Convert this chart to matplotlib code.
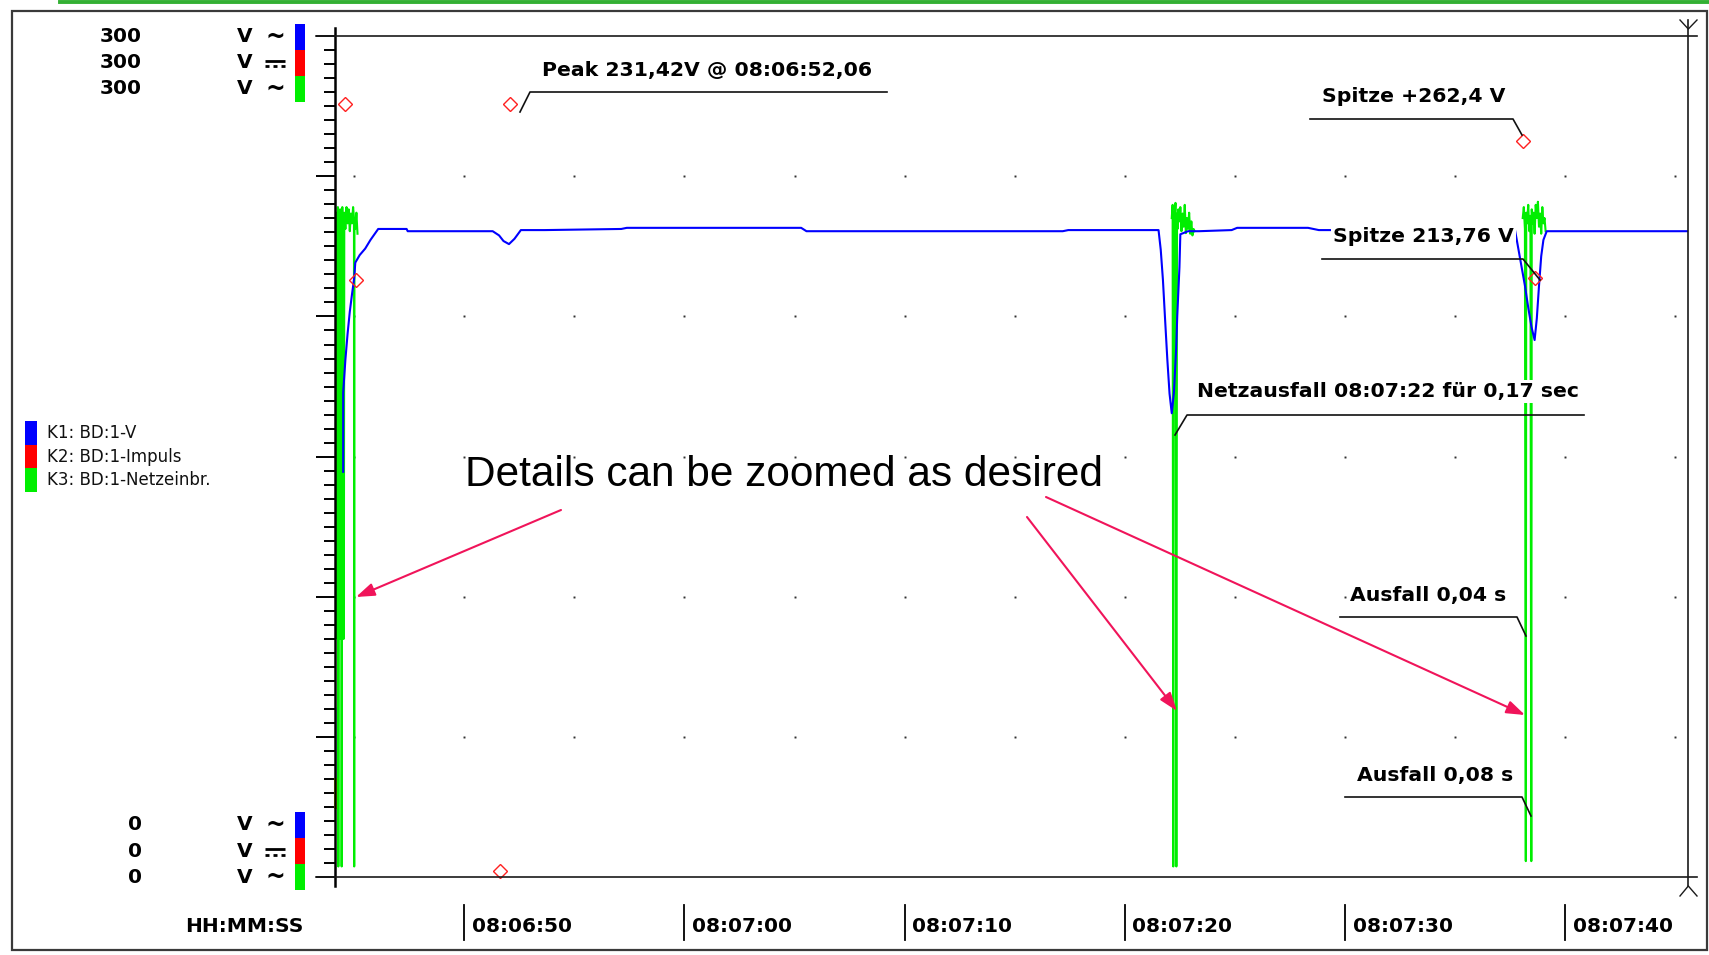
import numpy as np
import matplotlib
matplotlib.use("Agg")
import matplotlib.pyplot as plt
from matplotlib.lines import Line2D
from matplotlib.patches import Rectangle, FancyArrowPatch
import matplotlib.transforms as mtransforms

# ---------------- data (time = seconds after 08:06:00, values in volts) ----------------
blue_t = [44.14, 44.14, np.nan, 44.50, 44.50, 44.60, 44.70, 44.80, 44.90, 45.00, 45.05, 45.25,
          45.50, 45.74, 46.09, 47.38, 47.43, 51.29, 51.58, 51.78, 52.03, 52.28, 52.57, 53.66,
          57.13, 57.38, 65.30, 65.54, 77.18, 77.43, 81.53, 81.63, 81.73, 81.83, 81.93, 82.03,
          82.13, 82.23, 82.33, 82.38, 82.48, 82.52, 82.87, 83.37, 84.85, 85.10, 88.32, 88.81,
          97.72, 97.87, 98.02, 98.17, 98.32, 98.47, 98.61, 98.71, 98.81, 98.91, 99.01, 99.16,
          105.59]
blue_v = [35.0, 60.2, np.nan, 144.6, 172.9, 184.6, 193.9, 201.7, 207.9, 213.7, 219.2, 221.9,
          224.2, 227.3, 231.2, 231.2, 230.4, 230.4, 228.9, 226.9, 225.8, 227.7, 230.8, 230.8,
          231.2, 231.6, 231.6, 230.4, 230.4, 230.8, 230.8, 223.8, 213.0, 198.6, 184.6, 172.5,
          165.5, 172.9, 188.5, 200.1, 217.6, 229.3, 230.4, 230.4, 230.8, 231.6, 231.6, 230.8,
          230.8, 224.2, 217.6, 211.0, 203.2, 196.2, 191.6, 199.3, 211.0, 221.5, 227.3, 230.4,
          230.4]

yellow_t = [44.14, 44.14]
yellow_v = [35.0, 25.2]

green1_t = [44.16, 44.21, 44.23, 44.26, 44.28, 44.31, 44.33, 44.36, 44.38, 44.41, 44.43, 44.46,
            44.48, 44.50, 44.53, 44.55, 44.60, 44.65, 44.70, 44.75, 44.80, 44.85, 44.90, 44.95,
            44.99, 45.00, 45.01, 45.05, 45.10, 45.15]
green1_v = [233.2, 237.0, 85.1, 239.0, 3.9, 235.1, 85.1, 238.2, 85.1, 235.9, 3.9, 239.0,
            85.1, 235.1, 85.1, 237.0, 231.2, 239.0, 233.2, 238.2, 230.4, 236.7, 233.2, 239.0,
            235.1, 3.9, 235.1, 231.2, 237.0, 229.5]
green2_t = [82.13, 82.17, 82.20, 82.22, 82.26, 82.30, 82.34, 82.37, 82.39, 82.43, 82.48, 82.52,
            82.57, 82.62, 82.67, 82.72, 82.77, 82.82, 82.87, 82.92, 82.97, 83.02, 83.07, 83.12,
            83.17]
green2_v = [235.1, 239.8, 3.9, 237.0, 233.2, 240.5, 3.9, 236.7, 231.2, 238.2, 233.9, 239.0,
            230.4, 236.7, 232.0, 239.8, 229.7, 235.1, 231.2, 237.0, 229.5, 233.9, 228.9, 231.2,
            230.4]
green3_t = [98.07, 98.12, 98.17, 98.21, 98.23, 98.27, 98.32, 98.37, 98.42, 98.46, 98.48, 98.51,
            98.56, 98.61, 98.66, 98.71, 98.76, 98.81, 98.86, 98.91, 98.96, 99.01, 99.06, 99.11]
green3_v = [235.1, 239.0, 231.2, 5.8, 237.0, 233.2, 239.8, 230.4, 235.9, 5.8, 238.2, 233.2,
            237.0, 229.5, 239.8, 235.1, 240.9, 232.0, 236.7, 229.5, 239.0, 233.2, 235.1, 230.4]

marker_t = [44.60, 52.08, 45.10, 51.63, 98.07, 98.61]
marker_v = [275.9, 275.9, 213.0, 2.3, 262.4, 213.8]

t_start, t_end = 44.11, 105.59
v_min, v_max = 0, 300

x_tick_seconds = [50, 60, 70, 80, 90, 100]
x_tick_labels = ["08:06:50", "08:07:00", "08:07:10", "08:07:20", "08:07:30", "08:07:40"]
x_axis_title = "HH:MM:SS"
scale_max_labels = ["300", "300", "300"]
scale_min_labels = ["0", "0", "0"]
unit_labels = ["V", "V", "V"]
unit_symbols = ["~", "\u2393", "~"]   # AC, DC, AC
channel_colors = ["#0000ff", "#ff0000", "#00ee00"]
legend_labels = ["K1: BD:1-V", "K2: BD:1-Impuls", "K3: BD:1-Netzeinbr."]

annot_texts = ["Peak 231,42V @ 08:06:52,06", "Spitze +262,4 V", "Spitze 213,76 V",
               "Netzausfall 08:07:22 für 0,17 sec", "Ausfall 0,04 s", "Ausfall 0,08 s"]
big_text = "Details can be zoomed as desired"

# ---------------- layout (figure pixels) ----------------
W, H, DPI = 1709, 955, 100
annot_text_px = [(542, 70.5), (1322, 96), (1333, 236), (1197, 391.5), (1350, 595), (1357, 775)]
annot_leader_px = [[(520, 112), (530, 92), (887, 92)],
                   [(1310, 119), (1513, 119), (1522, 135)],
                   [(1322, 259), (1523, 259), (1540, 280)],
                   [(1175, 435), (1187, 415), (1584, 415)],
                   [(1340, 617), (1517, 617), (1526, 636)],
                   [(1345, 797), (1522, 797), (1531, 816)]]
annot_box = [False, False, True, True, False, False]
arrow_px = [((561, 510), (356, 597)), ((1027, 517), (1177, 711)), ((1046, 497), (1525, 715))]

GREEN = "#00ee00"
PINK = "#f0145a"
BOLD = dict(family="DejaVu Sans", weight="bold")


def fx(px):
    return px / W


def fy(py):
    return 1.0 - py / H


fig = plt.figure(figsize=(W / DPI, H / DPI), dpi=DPI)
fig.patch.set_facecolor("white")

AX_L, AX_R, AX_T, AX_B = 334.6, 1688.3, 36.0, 877.4
ax = fig.add_axes([fx(AX_L), fy(AX_B), (AX_R - AX_L) / W, (AX_B - AX_T) / H])
ax.set_xlim(t_start, t_end)
ax.set_ylim(v_min, v_max)
ax.set_facecolor("none")
for s in ax.spines.values():
    s.set_visible(False)
ax.set_yticks(np.arange(v_min, v_max + 1, 50))
ax.set_yticks(np.arange(v_min, v_max + 1, 5), minor=True)
ax.set_yticklabels([])
ax.tick_params(axis="y", which="major", length=13.4, width=1.4, color="black")
ax.tick_params(axis="y", which="minor", length=8, width=1.4, color="black")
ax.set_xticks([])

# grid dots at 5 s / 50 V intersections
grid_t = np.arange(45, t_end, 5)
grid_v = np.arange(50, v_max, 50)
gx, gy = np.meshgrid(grid_t, grid_v)
ax.plot(gx.ravel(), gy.ravel(), ls="none", marker="s", ms=1.4, mew=0, color="#303030", zorder=1)

green_t = green1_t + [np.nan] + green2_t + [np.nan] + green3_t
green_v = green1_v + [np.nan] + green2_v + [np.nan] + green3_v
ax.plot(green_t, green_v, color=GREEN, lw=1.5, zorder=3)
ax.plot(blue_t, blue_v, color="#0000ff", lw=1.5, zorder=4)
ax.plot(yellow_t, yellow_v, color="#e8e000", lw=2.2, zorder=4, clip_on=False)
ax.plot(marker_t, marker_v, ls="none", marker="D", ms=7, mfc="none", mec="#ff2020",
        mew=1.0, zorder=5, clip_on=False)

# x tick bars + labels below the plot
btrans = mtransforms.blended_transform_factory(ax.transData, fig.transFigure)
ltrans = mtransforms.offset_copy(btrans, fig=fig, x=7.6, y=0, units="dots")
for t, lab in zip(x_tick_seconds, x_tick_labels):
    ax.add_line(Line2D([t, t], [fy(905), fy(940)], transform=btrans, color="black",
                       lw=1.3, clip_on=False))
    ax.text(t, fy(926.5), lab, transform=ltrans, ha="left", va="center",
            fontsize=14.5, clip_on=False, **BOLD)
fig.text(fx(185), fy(926.5), x_axis_title, ha="left", va="center", fontsize=14.5, **BOLD)


def fline(pts, **kw):
    xs = [fx(p[0]) for p in pts]
    ys = [fy(p[1]) for p in pts]
    fig.add_artist(Line2D(xs, ys, transform=fig.transFigure, **kw))


# outer frame and top green bar
fig.add_artist(Rectangle((fx(12), fy(950)), (1707 - 12) / W, (950 - 11) / H,
                         transform=fig.transFigure, fill=False, ec="#3a3a3a", lw=1.6))
fline([(60, 2), (W, 2)], color="#33b033", lw=2.8)

# axis frame lines
fline([(AX_L, 28), (AX_L, 886)], color="black", lw=1.8)
fline([(316, AX_T), (1697, AX_T)], color="#1a1a1a", lw=1.2)
fline([(316, AX_B), (1697, AX_B)], color="#1a1a1a", lw=1.2)
fline([(AX_R, 20), (AX_R, 886)], color="#1a1a1a", lw=1.2)
fline([(1680, 20), (AX_R, 29), (1697, 20)], color="#1a1a1a", lw=1.0)
fline([(1680, 896), (AX_R, 886), (1697, 896)], color="#1a1a1a", lw=1.0)


def draw_dc_symbol(yy):
    # U+2393 (direct current symbol) has no glyph in any installed family: draw it
    fline([(265, yy - 2), (285, yy - 2)], color="black", lw=2.0, solid_capstyle="butt")
    for x0 in (265, 273, 281):
        fline([(x0, yy + 3.5), (x0 + 4, yy + 3.5)], color="black", lw=2.0,
              solid_capstyle="butt")


# channel scale labels (left)
top_rows = [37, 63, 89]
bot_rows = [825, 851, 877]
for rows, labs in ((top_rows, scale_max_labels), (bot_rows, scale_min_labels)):
    for yy, lab, unit, sym, col in zip(rows, labs, unit_labels, unit_symbols, channel_colors):
        fig.text(fx(142), fy(yy), lab, ha="right", va="center", fontsize=14.5, **BOLD)
        fig.text(fx(237), fy(yy), unit, ha="left", va="center", fontsize=14.5, **BOLD)
        if sym == "\u2393":
            draw_dc_symbol(yy)
        else:
            fig.text(fx(275), fy(yy), sym, ha="center", va="center", fontsize=17, **BOLD)
        fig.add_artist(Rectangle((fx(295), fy(yy + 13)), 10 / W, 26 / H,
                                 transform=fig.transFigure, color=col, lw=0))

# legend
leg_rows = [433, 457, 480]
for yy, lab, col in zip(leg_rows, legend_labels, channel_colors):
    fig.add_artist(Rectangle((fx(25), fy(yy + 12)), 12 / W, 24 / H,
                             transform=fig.transFigure, color=col, lw=0))
    fig.text(fx(47), fy(yy), lab, ha="left", va="center", fontsize=12,
             family="DejaVu Sans", color="#111111")

# annotations
for txt, (tx, ty), pts, boxed in zip(annot_texts, annot_text_px, annot_leader_px, annot_box):
    fline(pts, color="#111111", lw=1.2)
    kw = {}
    if boxed:
        kw["bbox"] = dict(boxstyle="square,pad=0.12", fc="white", ec="none")
    fig.text(fx(tx), fy(ty), txt, ha="left", va="center", fontsize=14.7, **BOLD, **kw)

fig.text(fx(465), fy(475), big_text, ha="left", va="center", fontsize=30.5,
         family="Liberation Sans", color="black")

for (p0, p1) in arrow_px:
    fig.add_artist(FancyArrowPatch((fx(p0[0]), fy(p0[1])), (fx(p1[0]), fy(p1[1])),
                                   transform=fig.transFigure,
                                   arrowstyle="-|>,head_length=0.8,head_width=0.28",
                                   mutation_scale=14, color=PINK, lw=1.5,
                                   shrinkA=0, shrinkB=0))

fig.savefig("out.png", dpi=DPI, facecolor="white")
